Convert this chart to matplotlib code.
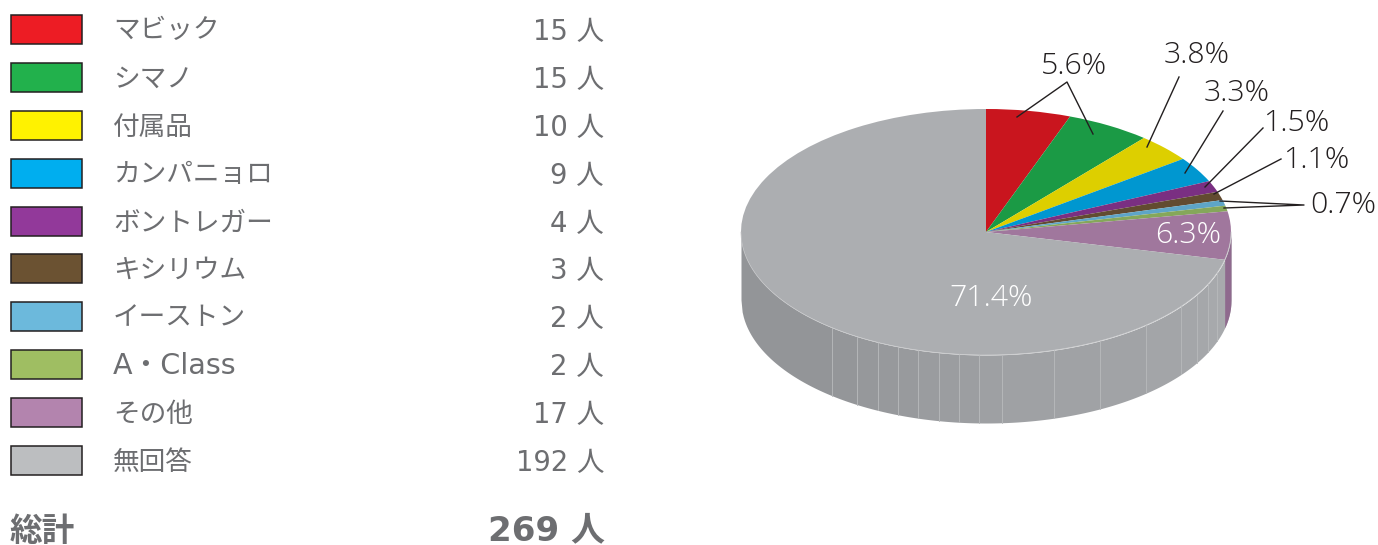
import numpy as np
import matplotlib
matplotlib.use("Agg")
import matplotlib.pyplot as plt
from matplotlib.patches import Rectangle

plt.rcParams['font.family'] = ['DejaVu Sans', 'Noto Sans CJK JP']

# data
names = ['マビック', 'シマノ', '付属品', 'カンパニョロ', 'ボントレガー', 'キシリウム',
         'イーストン', 'A・Class', 'その他', '無回答']
counts = [15, 15, 10, 9, 4, 3, 2, 2, 17, 192]
total_name = '総計'
total_count = 269
pct_labels = ['5.6%', '3.8%', '3.3%', '1.5%', '1.1%', '0.7%', '6.3%', '71.4%']

swatch_colors = ['#ed1c24', '#22b14c', '#fff200', '#00aeef', '#92399a',
                 '#6b5232', '#6cb9dc', '#9fbe62', '#b384ae', '#bcbec0']
top_colors = ['#c9151e', '#1b9a45', '#ddcf00', '#0097d0', '#7a2f82',
              '#624b30', '#5ea5c7', '#85a75a', '#a0779d', '#acaeb1']
text_color = '#6d6e71'
label_color = '#231f20'

W, H = 1378, 545
cx, cy, rx, ry, depth = 986, 232, 245, 123, 68

fig = plt.figure(figsize=(W / 100, H / 100), dpi=100)

# pie: unit circle squashed into an ellipse by the axes limits
ax_pie = fig.add_axes([0, 0, 1, 1])
ax_pie.pie(counts, colors=top_colors, startangle=90, counterclock=False, radius=1,
           wedgeprops={'linewidth': 0}, normalize=True)
for w in ax_pie.patches:
    w.set_zorder(5)
ax_pie.set_aspect('auto')
ax_pie.set_xlim(-cx / rx, (W - cx) / rx)
ax_pie.set_ylim((cy - H) / ry, cy / ry)
ax_pie.axis('off')

# side wall, split in facets with thin pale seams
seam_px = [741, 832, 857, 878, 898, 918, 939, 959, 979, 1002, 1054, 1100, 1146,
           1181, 1197, 1208, 1217, 1231]
d = depth / ry
end_other = sum(counts[:9]) / sum(counts) * 2 * np.pi
x_split = np.sin(end_other)
for i in range(len(seam_px) - 1):
    x0 = (seam_px[i] - cx) / rx
    x1 = (seam_px[i + 1] - cx) / rx
    x = np.linspace(x0, x1, 80)
    top = -np.sqrt(np.clip(1 - x ** 2, 0, 1))
    t = i / (len(seam_px) - 2)
    c = np.array([0x93, 0x95, 0x98]) * (1 - t) + np.array([0xa8, 0xaa, 0xad]) * t
    ax_pie.fill_between(x, top, top - d, color=c / 255, linewidth=0, zorder=1)
    if i > 0:
        ax_pie.plot([x0, x0], [top[0], top[0] - d], color='#b4b6b8', lw=0.6, zorder=2)
x = np.linspace(x_split, 1, 60)
top = -np.sqrt(np.clip(1 - x ** 2, 0, 1))
ax_pie.fill_between(x, top, top - d, color='#8f6a8e', linewidth=0, zorder=3)

# pale rim along the front of the top face
a = np.linspace(np.pi / 2, 3 * np.pi / 2, 200)
ax_pie.plot(np.sin(a), np.cos(a), color='#c6c7c9', lw=0.5, zorder=6)

# pixel overlay for the table and the leader lines
ax = fig.add_axes([0, 0, 1, 1])
ax.set_xlim(0, W)
ax.set_ylim(H, 0)
ax.axis('off')
ax.patch.set_alpha(0)

row_y = [29, 77, 125, 173, 221, 268, 316, 364, 412, 460]
for name, n, col, y in zip(names, counts, swatch_colors, row_y):
    ax.add_patch(Rectangle((10.5, y - 14.5), 71, 29, facecolor=col, edgecolor='#231f20', lw=1.1))
    # the Latin name runs wider in the original
    fs = 20.6 if name.startswith('A') else 19.2
    ax.text(113, y + 2.5, name, fontsize=fs, color=text_color, ha='left', va='center')
    ax.text(604, y + 3, f'{n} 人', fontsize=19.8, color=text_color, ha='right', va='center')

ax.text(10, 531, total_name, fontsize=23.5, color=text_color, ha='left', va='center', fontweight='bold')
ax.text(605, 531, f'{total_count} 人', fontsize=24.5, color=text_color, ha='right', va='center',
        fontweight='bold')

# leader lines
leaders = [
    [(1017, 117), (1067, 82), (1093, 134)],
    [(1179, 77), (1147, 147)],
    [(1223, 111), (1185, 173)],
    [(1263, 128), (1205, 187)],
    [(1281, 159), (1214, 194)],
    [(1220, 201), (1304, 205), (1224, 208)],
]
for pts in leaders:
    ax.plot([p[0] for p in pts], [p[1] for p in pts], color=label_color, lw=1.0, zorder=8)

label_pos = [(1074, 66), (1197, 55), (1237, 93), (1296, 123), (1316, 160), (1343, 205), (1188, 235), (991, 298)]
label_col = [label_color] * 6 + ['white', 'white']
for s, (lx, ly), c in zip(pct_labels, label_pos, label_col):
    ax.text(lx, ly, s, fontsize=21.8, color=c, ha='center', va='center',
            family=['Open Sans', 'DejaVu Sans'], fontweight='light')

fig.savefig('out.png', dpi=100)
